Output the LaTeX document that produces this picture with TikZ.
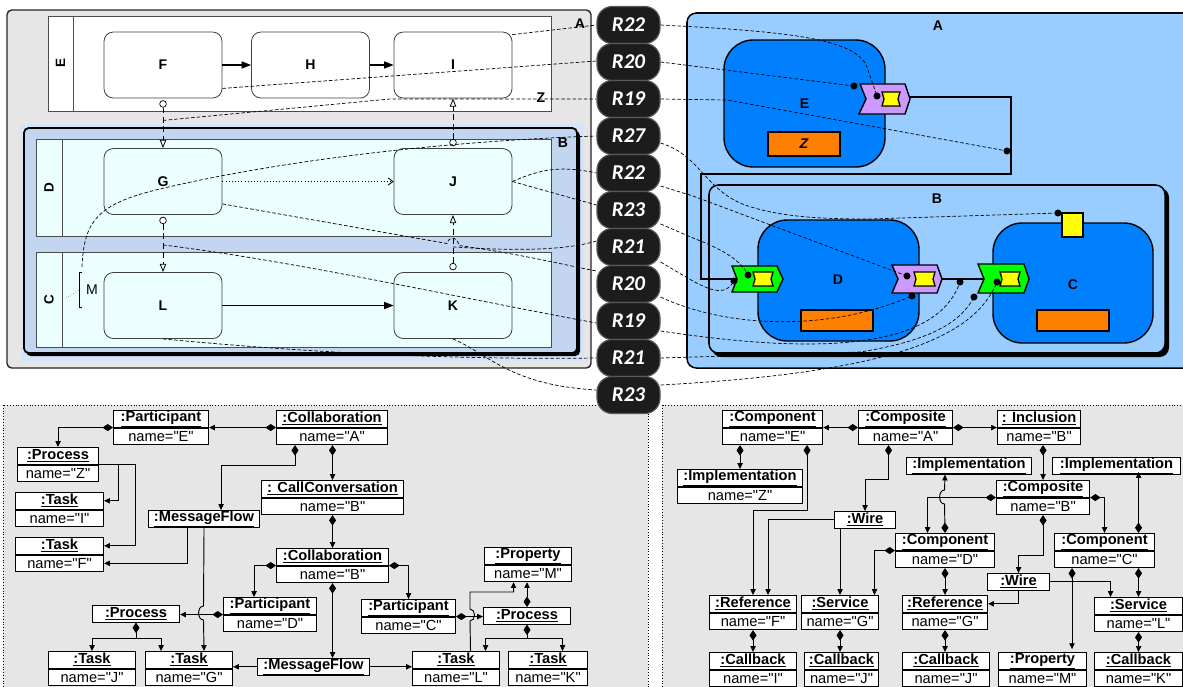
\documentclass[tikz,border=0pt]{standalone}
\usepackage{fontspec}
\setmainfont{Liberation Sans}[Ligatures=TeXOff]
\newfontfamily\pillfont{Carlito}
\usepackage{tikz}
\usetikzlibrary{arrows.meta,calc}
\usepackage{xcolor}
\definecolor{PanelGrey}{HTML}{E6E6E6}
\definecolor{PoolCyan}{HTML}{EBFFFF}
\definecolor{LaneBlue}{HTML}{C2D5F1}
\definecolor{GlowBlue}{HTML}{D4E5FA}
\definecolor{SkyBlue}{HTML}{99CCFF}
\definecolor{CompBlue}{HTML}{0080FF}
\definecolor{ImplOrange}{HTML}{FF8000}
\definecolor{RefPurple}{HTML}{CC99FF}
\definecolor{SrvGreen}{HTML}{00FF00}
\definecolor{CbYellow}{HTML}{FFFF00}
\definecolor{PillBlack}{HTML}{1C1C1C}
\newcommand{\lblfont}{\fontsize{12}{14}\selectfont\bfseries}
% two-part object box: name, left, top, width, header, value
\newcommand{\obj}[6]{%
  \node[objhead, minimum width=#4*0.03cm, anchor=north west] (#1) at (#2,#3) {\underline{\textbf{#5}}};
  \node[objval, minimum width=#4*0.03cm, anchor=north] (#1n) at (#1.south) {#6};
}
\newcommand{\objone}[5]{%
  \node[objhead, minimum width=#4*0.03cm, anchor=north west] (#1) at (#2,#3) {\underline{\textbf{#5}}};
}
\tikzset{
  objhead/.style={draw, fill=white, line width=0.9pt, minimum height=0.495cm, inner sep=0pt, font=\fontsize{12.5}{13}\selectfont},
  objval/.style={objhead},
  owns/.style={line width=0.8pt, {Diamond[length=9pt,width=6pt]}-{Triangle[length=5pt,width=4.5pt]}},
  points/.style={line width=0.8pt, -{Triangle[length=5pt,width=4.5pt]}},
  task/.style={draw=black!75, line width=0.7pt, fill=white, rounded corners=8pt, minimum width=3.54cm, minimum height=1.98cm, font=\lblfont},
  lanetask/.style={task, fill=PoolCyan},
  lanelbl/.style={rotate=90, font=\fontsize{11.5}{12}\selectfont\bfseries},
  plainlbl/.style={font=\lblfont},
  mcirc/.style={circle, draw, fill=white, inner sep=0pt, minimum size=0.2cm, line width=0.6pt},
  msgflow/.style={line width=0.7pt, dash pattern=on 5pt off 3pt, -{Triangle[open,length=7pt,width=5.5pt]}},
  seqflow/.style={line width=0.9pt, -{Triangle[length=8pt,width=6pt]}},
  trace/.style={line width=0.6pt, dash pattern=on 3pt off 1.8pt},
  pill/.style={draw=black!65, line width=1pt, fill=PillBlack, rounded corners=13pt, minimum width=1.89cm, minimum height=1.11cm, text=white, font=\pillfont\bfseries\itshape\fontsize{18}{20}\selectfont},
  comp/.style={draw, line width=1.2pt, fill=CompBlue, rounded corners=25pt, font=\lblfont},
  wire/.style={line width=1.3pt},
  dot/.style={fill=black},
}
\begin{document}
\begin{tikzpicture}[x=0.03cm, y=-0.03cm]
\useasboundingbox (0,0) rectangle (1183,686);

% lower panels
\draw[dotted, fill=PanelGrey] (3,405) rectangle (648,700);
\draw[dotted, fill=PanelGrey] (662,405) rectangle (1190,700);

% BPMN side
\draw[line width=1.2pt, draw=black!85, fill=PanelGrey, rounded corners=4pt] (7,10) rectangle (591,368);
\draw[black!70, fill=white] (48,16) rectangle (551,111);
\draw[black!70] (73,16) -- (73,111);
\node[lanelbl] (lblE) at (60.5,63.5) {E};
\fill[GlowBlue] (21,124) rectangle (584,361);
\fill[black, rounded corners=4pt] (26,131) rectangle (580,356);
\draw[line width=1.5pt, fill=LaneBlue, rounded corners=4pt] (24,128) rectangle (577,353);
\draw[black!70, fill=PoolCyan] (36,139) rectangle (551,236);
\draw[black!70] (62,139) -- (62,236);
\node[lanelbl] (lblD) at (49,187.5) {D};
\draw[black!70, fill=PoolCyan] (36,252) rectangle (551,347);
\draw[black!70] (62,252) -- (62,347);
\node[lanelbl] (lblC) at (49,299.5) {C};

\node[task] (taskF) at (163,65) {F};
\node[task] (taskH) at (310.5,65) {H};
\node[task] (taskI) at (453,65) {I};
\node[lanetask] (taskG) at (163,181.5) {G};
\node[lanetask] (taskJ) at (453,181.5) {J};
\node[lanetask] (taskL) at (163,305.5) {L};
\node[lanetask] (taskK) at (453,305.5) {K};

\draw[seqflow] (taskF) -- (taskH);
\draw[seqflow] (taskH) -- (taskI);
\draw[seqflow] (taskL) -- (taskK);
\draw[line width=0.7pt, dotted, -{Straight Barb[length=4pt,width=6pt]}] (taskG) -- (taskJ);

\node[mcirc] (fgc) at ($(taskF.south)+(0,5.5)$) {};
\node[mcirc] (glc) at ($(taskG.south)+(0,5.5)$) {};
\node[mcirc] (kjc) at ($(taskK.north)+(0,-5.5)$) {};
\node[mcirc] (jic) at ($(taskJ.north)+(0,-5.5)$) {};
\draw[msgflow] (fgc) -- (taskG);
\draw[msgflow] (glc) -- (taskL);
\draw[msgflow] (kjc) -- (taskJ);
\draw[msgflow] (jic) -- (taskI);

\node[plainlbl] (lblA) at (580,24) {A};
\node[plainlbl] (lblZ) at (541,98) {Z};
\node[plainlbl] (lblB) at (563,143) {B};
\draw[line width=0.5pt] (82,272) -- (79,272) -- (79,307) -- (82,307);
\node[font=\fontsize{12}{13}\selectfont] (lblM) at (92,290) {M};
\coordinate (mtop) at (82,267);
\draw[dotted] (66,298) -- (79,290);

% pills
\foreach \nm/\yy/\txt in {p22a/25/R22, p20a/62/R20, p19a/99/R19, p27/136/R27, p22b/173/R22, p23a/210/R23, p21a/247/R21, p20b/284/R20, p19b/321/R19, p21b/358/R21, p23b/395/R23}
  \node[pill] (\nm) at (628.5,\yy) {\txt};

% SCA side
\draw[line width=1.3pt, fill=SkyBlue, rounded corners=8pt] (687,13) rectangle (1195,368);
\node[plainlbl] (lblSA) at (938,26) {A};
\node[comp] (compE) at (804.5,103.5) [minimum width=4.83cm, minimum height=3.81cm] {E};
\draw[line width=1.2pt, fill=ImplOrange] (768,132) rectangle node[font=\lblfont\itshape] (implZ) {Z} (840,156);
\draw[line width=1.2pt, fill=RefPurple] (860,84) -- (905,84) -- (910,99) -- (905,114) -- (859,114) -- (866,99) -- cycle;
\draw[line width=1.1pt, fill=CbYellow] (882,92) -- (900,92) -- (898,99) -- (900,106) -- (882,106) -- (884,99) -- cycle;

\fill[black, rounded corners=8pt] (712,188) rectangle (1169,357);
\draw[line width=1.3pt, fill=SkyBlue, rounded corners=8pt] (709,185) rectangle (1165,353);
\node[plainlbl] (lblSB) at (937,199) {B};
\node[comp] (compD) at (838.5,280.5) [minimum width=4.83cm, minimum height=3.63cm] {};
\node[font=\lblfont] (lblSD) at (838,280) {D};
\draw[line width=1.2pt, fill=ImplOrange] (801,310) rectangle (873,331);
\node[comp] (compC) at (1073,283) [minimum width=4.8cm, minimum height=3.6cm] {};
\node[font=\lblfont] (lblSC) at (1073,285) {C};
\draw[line width=1.2pt, fill=ImplOrange] (1037,310) rectangle (1109,331);
\draw[line width=1.2pt, fill=CbYellow] (1062,213) rectangle (1083,237);

\draw[wire] (910,97) -- (1011,97) -- (1011,174) -- (701,174) -- (701,279) -- (737,279);
\draw[wire] (942,279) -- (984,279);
\draw[line width=1.2pt, fill=SrvGreen] (732,266) -- (777,266) -- (783,279) -- (777,292) -- (732,292) -- (737,279) -- cycle;
\draw[line width=1.1pt, fill=CbYellow] (753,272) -- (773,272) -- (771,279) -- (773,286) -- (753,286) -- (755,279) -- cycle;
\draw[line width=1.2pt, fill=RefPurple] (892,265) -- (937,265) -- (942,279) -- (937,293) -- (892,293) -- (898,279) -- cycle;
\draw[line width=1.1pt, fill=CbYellow] (914,272) -- (935,272) -- (933,279) -- (935,286) -- (914,286) -- (916,279) -- cycle;
\draw[line width=1.2pt, fill=SrvGreen] (978,264) -- (1024,264) -- (1029,279) -- (1024,293) -- (978,293) -- (984,279) -- cycle;
\draw[line width=1.1pt, fill=CbYellow] (1000,272) -- (1020,272) -- (1018,279) -- (1020,286) -- (1000,286) -- (1002,279) -- cycle;

\foreach \nm/\px/\py in {dA1/854/86, dA2/877/96, dW1/1007/151, dP/1058/213, dB1/907/276, dB2/748/275, dB3/734/281, dB4/912/296, dB5/960/282, dB6/974/297, dB7/997/282}
  \coordinate (\nm) at (\px,\py);

% traces, BPMN to pills
\draw[trace] ($(taskI.north east)+(0,3)$) -- (p22a.west);
\draw[trace] ($(taskF.south east)+(0,-10)$) -- ($(p20a.west)+(0,-1)$);
\draw[trace] ($(taskF.south)+(0,22)$) -- (390,99) -- (p19a.west);
\draw[trace] (mtop) .. controls (84,222) and (96,204) .. (160,189) .. controls (260,165) and (420,142) .. (p27.west);
\draw[trace] (taskJ.east) .. controls (535,172) and (555,164) .. (p22b.west);
\draw[trace] (taskJ.east) -- ($(p23a.west)+(0,-5)$);
\draw[trace] ($(taskJ.south)+(0,32)$) .. controls (500,250) and (560,252) .. ($(p21a.west)+(0,-6)$);
\draw[trace] ($(taskG.south east)+(0,-11)$) -- (447,243.5) .. controls (449,236) and (457,236) .. (459,245.5) .. controls (520,254) and (560,264) .. ($(p20b.west)+(0,-13)$);
\draw[trace] ($(taskG.south)+(0,30)$) .. controls (300,262) and (460,298) .. ($(p19b.west)+(0,2)$);
\draw[trace] (taskL.south) .. controls (300,352) and (450,360) .. (p21b.west);
\draw[trace] (taskK.south) .. controls (490,355) and (510,385) .. ($(p23b.west)+(0,-5)$);

% traces, pills to SCA
\draw[trace] (p22a.east) .. controls (800,32) and (860,40) .. (868,70) -- (dA2);
\draw[trace] (p20a.east) -- (dA1);
\draw[trace] (p19a.east) -- (727,100) -- (dW1);
\draw[trace] ($(p27.east)+(0,7)$) .. controls (700,155) and (705,190) .. (745,205) .. controls (780,217) and (820,219) .. (870,219) -- (dP);
\draw[trace] ($(p22b.east)+(0,13)$) -- (693,196) -- (dB1);
\draw[trace] ($(p23a.east)+(0,14)$) -- (693,238) .. controls (725,250) and (742,262) .. (dB2);
\draw[trace] ($(p21a.east)+(0,15)$) .. controls (700,285) and (722,302) .. (dB3);
\draw[trace] ($(p20b.east)+(0,13)$) .. controls (720,325) and (820,335) .. (dB4);
\draw[trace] ($(p19b.east)+(0,10)$) .. controls (800,352) and (935,355) .. (dB5);
\draw[trace] (p21b.east) -- (860,352) .. controls (935,340) and (962,320) .. (dB6);
\draw[trace] ($(p23b.east)+(0,-10)$) .. controls (900,372) and (975,335) .. (dB7);
\foreach \nm in {dA1,dA2,dW1,dP,dB1,dB2,dB3,dB4,dB5,dB6,dB7}
  \fill[dot] (\nm) circle (3pt);

% BPMN metamodel instance
\obj{lpE}{113}{410}{95}{:Participant}{name="E"}
\obj{lcA}{276}{410}{111}{:Collaboration}{name="A"}
\obj{lprZ}{17}{447}{81}{:Process}{name="Z"}
\obj{ltI}{15}{492}{88}{:Task}{name="I"}
\obj{ltF}{15}{537}{88}{:Task}{name="F"}
\obj{lcc}{261}{480}{142}{: CallConversation}{name="B"}
\objone{lmf1}{148}{510}{111}{:MessageFlow}
\obj{lcB}{276}{548}{112}{:Collaboration}{name="B"}
\obj{lpM}{484}{547}{87}{:Property}{name="M"}
\objone{lpr1}{92}{605}{87}{:Process}
\obj{lpD}{223}{597}{93}{:Participant}{name="D"}
\obj{lpC}{361}{599}{94}{:Participant}{name="C"}
\objone{lpr2}{483}{607}{87}{:Process}
\obj{ltJ}{48}{651}{87}{:Task}{name="J"}
\obj{ltG}{145}{651}{87}{:Task}{name="G"}
\objone{lmf2}{257}{658}{112}{:MessageFlow}
\obj{ltL}{412}{651}{87}{:Task}{name="L"}
\obj{ltK}{508}{651}{79}{:Task}{name="K"}

\draw[owns] (lcA.south west) -- (lpE.south east);
\draw[owns] (lpE.south west) -| (lprZ.north);
\draw[points] (lprZ.south east) -- ++(19,0) |- (ltI.east);
\draw[points] (lprZ.south east) -- ++(36,0) |- (ltF.east);
\draw[owns] ($(lcAn.south west)+(19,0)$) -- ++(0,20) -| ($(lmf1.north)+(17,0)$);
\draw[owns] (lcc.north |- lcAn.south) -- (lcc.north);
\draw[points] ($(lmf1.south)+(-17,0)$) |- (ltFn.east);
\draw[points] (lmf1.south) -- (203.5,606) .. controls (197,606) and (197,620) .. (203.5,620) -- (lmf1.south |- ltG.north);
\draw[owns] (lccn.south) -- (lcB.north);
\draw[owns] (lcB.south west) -| ($(lpD.north)+(-16,0)$);
\draw[owns] (lcB.south east) -| (lpC.north);
\draw[owns] (lcBn.south) -- (lcBn.south |- lmf2.north);
\draw[owns] (lpD.south west) -- (lpD.south west -| lpr1.east);
\draw[owns] (lpr1.south) -- ++(0,16) coordinate (pr1j) -| (ltJ.north);
\draw[points] (pr1j) -| ($(ltG.north)+(-28,0)$);
\draw[points] (lmf2.west) -- (lmf2.west -| ltG.east);
\draw[points] (lmf2.east) -- (lmf2.east -| ltL.west);
\draw[owns] (lpC.south east) -- (lpC.south east -| lpr2.west);
\draw[points] ($(ltL.north)+(14.5,0)$) -- (470,621) .. controls (476,621) and (476,609) .. (470,609) -- (470,592) -| ($(lpMn.south)+(-14.5,0)$);
\draw[owns] (lpr2.north) -- (lpr2.north |- lpMn.south);
\draw[owns] (lpr2.south) -- ++(0,14) coordinate (pr2j) -| ($(ltL.north)+(29.5,0)$);
\draw[points] (pr2j) -| ($(ltK.north)+(14.5,0)$);

% SCA metamodel instance
\obj{rcE}{722}{410}{100}{:Component}{name="E"}
\obj{rcA}{858}{410}{94}{:Composite}{name="A"}
\obj{rinc}{997}{410}{83}{: Inclusion}{name="B"}
\obj{rimZ}{677}{469}{125}{:Implementation}{name="Z"}
\objone{rim1}{906}{457}{125}{:Implementation}
\objone{rim2}{1052}{457}{128}{:Implementation}
\obj{rcB}{996}{480}{93}{:Composite}{name="B"}
\objone{rw1}{834}{511}{61}{:Wire}
\obj{rcD}{895}{533}{99}{:Component}{name="D"}
\obj{rcC}{1054}{533}{100}{:Component}{name="C"}
\objone{rw2}{987}{573}{62}{:Wire}
\obj{rrF}{709}{595}{87}{:Reference}{name="F"}
\obj{rsG}{801}{595}{77}{:Service}{name="G"}
\obj{rrG}{902}{595}{85}{:Reference}{name="G"}
\obj{rsL}{1094}{597}{88}{:Service}{name="L"}
\obj{rcbI}{709}{652}{87}{:Callback}{name="I"}
\obj{rcbJ}{804}{652}{74}{:Callback}{name="J"}
\obj{rcbJb}{902}{652}{87}{:Callback}{name="J"}
\obj{rpM}{998}{652}{88}{:Property}{name="M"}
\obj{rcbK}{1094}{652}{88}{:Callback}{name="K"}

\draw[owns] (rcA.south west) -- (rcE.south east);
\draw[owns] (rcA.south east) -- (rinc.south west);
\draw[owns] (rimZ.north |- rcEn.south) -- (rimZ.north);
\draw[owns] ($(rcEn.south east)+(-16,0)$) -- ++(0,65) -| (rrF.north);
\draw[owns] ($(rcAn.south)+(-17,0)$) -- ++(0,34) -| (rw1.north);
\draw[points] (rw1.west) -| ($(rrF.north)+(15,0)$);
\draw[points] (rsG.north |- rw1.south) -- (rsG.north);
\draw[owns] (rcB.north |- rincn.south) -- (rcB.north);
\draw[owns] (rcB.south west) -| ($(rcD.north)+(-17.5,0)$);
\draw[owns] (rcD.north) -- (944.5,504) .. controls (938,504) and (938,490) .. (944.5,490) -- (rcD.north |- rim1.south);
\draw[owns] (rcB.south east) -| (rcC.north);
\draw[owns] ($(rcC.north)+(34,0)$) -- ++(0,-61);
\draw[owns] (rcBn.south) -- ++(0,40) -| (rw2.north);
\draw[owns] (rcD.south west) -| ($(rsG.north)+(34.5,0)$);
\draw[owns] (rrG.north |- rcDn.south) -- (rrG.north);
\draw[points] (rw2.south) |- (rrG.east);
\draw[points] (rw2.east) -| ($(rsL.north)+(-28,0)$);
\draw[owns] ($(rcCn.south west)+(18,0)$) -- ++(0,81);
\draw[owns] (rsL.north |- rcCn.south) -- (rsL.north);
\draw[owns] (rrFn.south) -- (rcbI.north);
\draw[owns] (rsGn.south) -- (rsGn.south |- rcbJ.north);
\draw[owns] (rrGn.south) -- (rrGn.south |- rcbJb.north);
\draw[owns] (rsLn.south) -- (rcbK.north);
\end{tikzpicture}
\end{document}
